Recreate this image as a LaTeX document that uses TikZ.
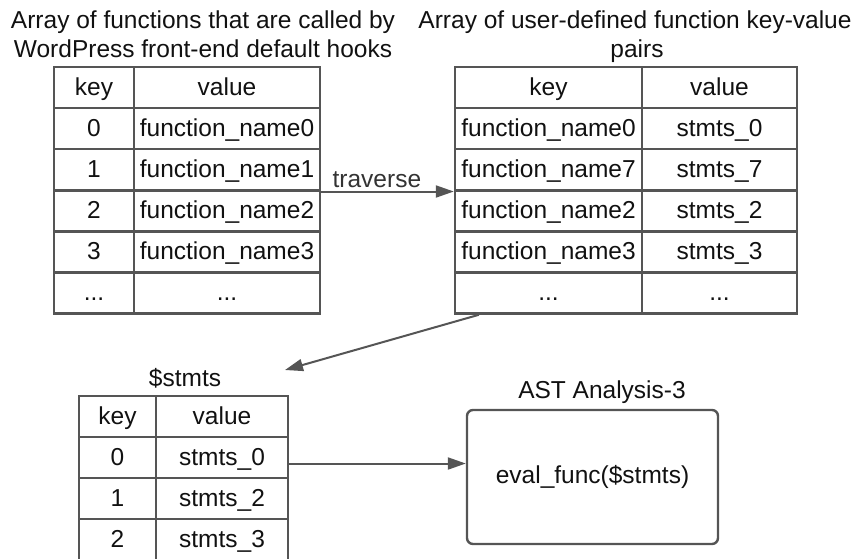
\documentclass[tikz,border=0pt]{standalone}
\usepackage{fontspec}
\setmainfont{Liberation Sans}
\usetikzlibrary{arrows.meta}
\definecolor{linec}{HTML}{555555}
\definecolor{textc}{HTML}{111111}
\newcommand\celldots{...}
\tikzset{
  cell/.style={draw=linec, line width=2.4pt, inner sep=0pt, text=textc,
    text height=18pt, text depth=3pt, minimum height=41.1pt},
  title/.style={anchor=base, inner sep=0pt, text=textc},
  arr/.style={draw=linec, line width=2pt, -{Triangle[length=18pt,width=12pt]}},
  procbox/.style={draw=linec, line width=2.4pt, rounded corners=6pt,
    minimum width=251pt, minimum height=134pt, text=textc},
}
\begin{document}
\begin{tikzpicture}[x=1pt, y=-1pt, font=\fontsize{24.5}{29}\selectfont]
\useasboundingbox (0,0) rectangle (858,558);

% table of functions called by the default hooks
\node[title] (ta1) at (203,28) {Array of functions that are called by};
\node[title] (ta2) at (203,57) {WordPress front-end default hooks};
\foreach \r/\k/\v in {0/key/value, 1/0/function\_name0, 2/1/function\_name1,
    3/2/function\_name2, 4/3/function\_name3, 5/\celldots/\celldots} {
  \node[cell, minimum width=80pt] (a-k\r) at (94, 67+41.1*\r+20.55) {\k};
  \node[cell, minimum width=186pt] (a-v\r) at (227, 67+41.1*\r+20.55) {\v};
}

% table of user-defined functions
\node[title] (tb1) at (635,28) {Array of user-defined function key-value};
\node[title] (tb2) at (637,57) {pairs};
\foreach \r/\k/\v in {0/key/value, 1/function\_name0/stmts\_0,
    2/function\_name7/stmts\_7, 3/function\_name2/stmts\_2,
    4/function\_name3/stmts\_3, 5/\celldots/\celldots} {
  \node[cell, minimum width=187pt] (b-k\r) at (548.5, 67+41.1*\r+20.55) {\k};
  \node[cell, minimum width=155pt] (b-v\r) at (719.5, 67+41.1*\r+20.55) {\v};
}

% the collected statements
\node[title] (tc) at (185,386) {\$stmts};
\foreach \r/\k/\v in {0/key/value, 1/0/stmts\_0, 2/1/stmts\_2, 3/2/stmts\_3} {
  \node[cell, minimum width=77pt] (c-k\r) at (117.5, 396+41*\r+20.5) {\k};
  \node[cell, minimum width=132pt] (c-v\r) at (222, 396+41*\r+20.5) {\v};
}

% analysis step
\node[title] (td) at (602,398) {AST Analysis-3};
\node[procbox] (box) at (592.5,477) {eval\_func(\$stmts)};

% connectors
\draw[arr] (a-v2.south east) -- (b-k2.south west)
  node[pos=0.42, above, inner sep=3pt, text=black!80] (trv) {traverse};
\coordinate (from) at ([xshift=25pt]b-k5.south west);
\coordinate (to) at (285,370);
\draw[arr] (from) -- (to);
\coordinate (s3) at ([yshift=-6pt]c-v1.east);
\draw[arr] (s3) -- (s3 -| box.west);
\end{tikzpicture}
\end{document}
